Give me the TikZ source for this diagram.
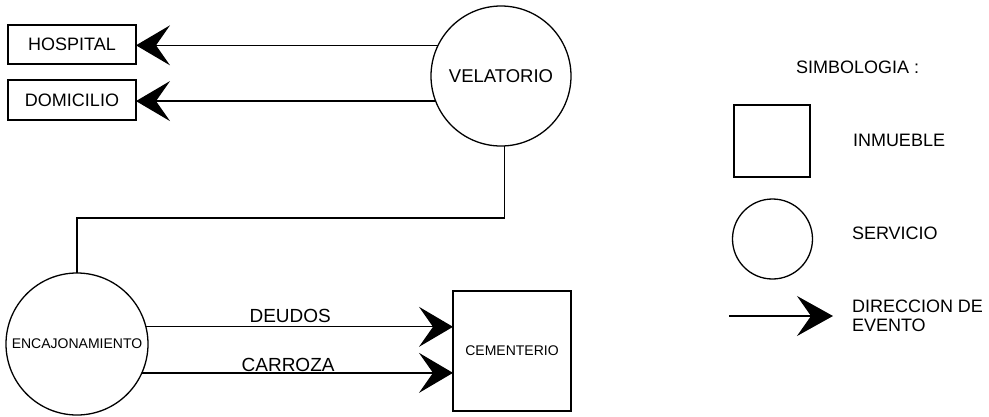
\documentclass[tikz,border=0pt]{standalone}
\usepackage{fontspec}
\setmainfont{Liberation Sans}
\usetikzlibrary{arrows.meta,calc}
\begin{document}
\begin{tikzpicture}[x=1pt,y=-1pt,
  every node/.style={inner sep=0pt, outer sep=0pt},
  ln/.style={line width=1.3pt, black},
  inmueble/.style={draw, line width=1.3pt, rectangle},
  servicio/.style={draw, line width=1.3pt, circle},
  arr/.style={ln, -{Stealth[length=34pt, width=40pt, inset=14pt]}},
  lbl/.style={font=\fontsize{18}{18}\selectfont},
  sml/.style={font=\fontsize{14}{14}\selectfont},
]
\useasboundingbox (0,0) rectangle (989,416);

% nodes
\node[inmueble, minimum width=128pt, minimum height=39pt, lbl] (hosp) at (72,44.5) {HOSPITAL};
\node[inmueble, minimum width=128pt, minimum height=40pt, lbl] (domi) at (72,100) {DOMICILIO};
\node[servicio, minimum size=140pt, font=\fontsize{18.5}{18.5}\selectfont] (vel) at (501,76) {VELATORIO};
\node[servicio, minimum size=142pt, sml] (enc) at (77,344) {ENCAJONAMIENTO};
\node[inmueble, minimum width=118pt, minimum height=120pt, sml] (cem) at (512,351) {CEMENTERIO};

% connectors
\draw[arr] (vel.154.6) -- (vel.154.6 -| hosp.east);
\draw[arr] (vel.201.8) -- (vel.201.8 -| domi.east);
\coordinate (bend) at (77,218);
\draw[ln] (vel.-87) -- (vel.-87 |- bend) -| (enc.north);
\draw[arr] (enc.14.7) -- (enc.14.7 -| cem.west) node[pos=0.47, above=4pt, font=\fontsize{19}{19}\selectfont] (deu) {DEUDOS};
\draw[arr] (enc.-24.1) -- (enc.-24.1 -| cem.west) node[pos=0.47, above=1.5pt, font=\fontsize{19}{19}\selectfont] (car) {CARROZA};

% legend
\node[lbl, anchor=west] (simb) at (796,67) {SIMBOLOGIA :};
\node[inmueble, minimum width=76pt, minimum height=72pt] (lsq) at (772,141) {};
\node[lbl, anchor=west] (linm) at (853,140) {INMUEBLE};
\node[servicio, minimum size=80pt] (lci) at (772.5,239) {};
\node[lbl, anchor=west] (lser) at (852,233) {SERVICIO};
\coordinate (lst) at (729,316);
\coordinate (ltip) at (833,316);
\draw[ln, -{Stealth[length=36pt, width=40pt, inset=14pt]}] (lst) -- (ltip);
\node[lbl, anchor=west, align=left] (ldir) at (852,316) {DIRECCION DE\\[1pt]EVENTO};
\end{tikzpicture}
\end{document}
